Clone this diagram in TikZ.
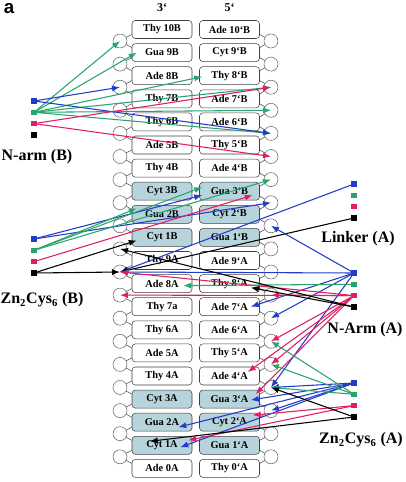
\documentclass[tikz,border=0pt]{standalone}
\usepackage{fontspec}
\setmainfont{Liberation Serif}
\newfontfamily\labsans{Liberation Sans}
\usetikzlibrary{arrows.meta,calc}
\definecolor{cb}{RGB}{35,60,200}
\definecolor{cg}{RGB}{40,165,110}
\definecolor{cr}{RGB}{225,30,100}
\definecolor{gc}{RGB}{183,211,220}
\tikzset{
  >={Latex[length=6pt,width=4.6pt]},
  base/.style={draw=black!75,rounded corners=2.5pt,fill=white,minimum width=45pt,minimum height=13.5pt,inner sep=0pt,font=\fontsize{7.8}{8}\selectfont\bfseries},
  gcbase/.style={base,fill=gc},
  pho/.style={draw=black!60,circle,minimum size=10.5pt,inner sep=0pt,fill=white},
  bb/.style={draw=black!60,line width=0.5pt},
  sq/.style={minimum size=3.8pt,inner sep=0pt},
  arr/.style={->,line width=0.8pt},
  lab/.style={font=\fontsize{12}{12}\selectfont\bfseries}
}
\begin{document}
\begin{tikzpicture}[x=0.75pt,y=-0.75pt]
\useasboundingbox (0,0) rectangle (405,482);
% backbone
\foreach \i [evaluate=\i as \j using int(\i+1)] in {0,...,18}{
  \node[pho] (lc\i) at (120,41+23.1*\i) {};
  \node[pho] (rc\i) at (271,41+23.1*\i) {};
}
\foreach \t/\s [count=\i from 0] in {Thy 10B/base,Gua 9B/base,Ade 8B/base,Thy 7B/base,Thy 6B/base,Ade 5B/base,Thy 4B/base,Cyt 3B/gcbase,Gua 2B/gcbase,Cyt 1B/gcbase,Thy 9A/base,Ade 8A/base,Thy 7a/base,Thy 6A/base,Ade 5A/base,Thy 4A/base,Cyt 3A/gcbase,Gua 2A/gcbase,Cyt 1A/gcbase,Ade 0A/base}
  \node[\s] (l\i) at (162,29.5+23.1*\i) {\t};
\foreach \t/\s [count=\i from 0] in {Ade 10`B/base,Cyt 9`B/base,Thy 8`B/base,Ade 7`B/base,Ade 6`B/base,Thy 5`B/base,Ade 4`B/base,Gua 3`B/gcbase,Cyt 2`B/gcbase,Gua 1`B/gcbase,Ade 9`A/base,Thy 8`A/base,Ade 7`A/base,Ade 6`A/base,Thy 5`A/base,Ade 4`A/base,Gua 3`A/gcbase,Cyt 2`A/gcbase,Gua 1`A/gcbase,Thy 0`A/base}
  \node[\s] (r\i) at (229.5,29.5+23.1*\i) {\t};
\foreach \i [evaluate=\i as \j using int(\i+1)] in {0,...,18}{
  \draw[bb] (lc\i.30) -- ($(l\i.west)+(0,5)$);
  \draw[bb] (lc\i.-30) -- ($(l\j.west)+(0,-5)$);
  \draw[bb] (rc\i.150) -- ($(r\i.east)+(0,5)$);
  \draw[bb] (rc\i.210) -- ($(r\j.east)+(0,-5)$);
}
\node[font=\fontsize{9}{9}\selectfont\bfseries] (h3) at (162,8) {3`};
\node[font=\fontsize{9}{9}\selectfont\bfseries] (h5) at (229.5,8) {5`};
\node[font=\labsans\fontsize{14}{14}\selectfont\bfseries] (pa) at (9,9) {a};
% labels
\node[lab] (lnB) at (37,157) {N-arm (B)};
\node[lab] (lzB) at (42,300) {Zn\textsubscript{2}Cys\textsubscript{6} (B)};
\node[lab] (llA) at (358,239) {Linker (A)};
\node[lab] (lnA) at (365,330) {N-Arm (A)};
\node[lab] (lzA) at (361,440) {Zn\textsubscript{2}Cys\textsubscript{6} (A)};
% markers
\foreach \g/\x/\y in {nB/34/101,zB/34/239,kA/354/184,nA/354/273,zA/354/383}{
  \node[sq,fill=cb] (\g b) at (\x,\y) {};
  \node[sq,fill=cg] (\g g) at (\x,\y+11.3) {};
  \node[sq,fill=cr] (\g r) at (\x,\y+22.6) {};
  \node[sq,fill=black] (\g k) at (\x,\y+34) {};
}
% targets inside bases
\coordinate (tl1) at ($(l1.west)+(5,0)$);
\coordinate (tr2) at ($(r2.west)+(3,1)$);
\coordinate (tr7a) at ($(r7.west)+(3,4)$);
\coordinate (tr7b) at ($(r7.west)+(3,-4)$);
\coordinate (tr7c) at ($(r7.east)+(-7,4)$);
\coordinate (tl8) at ($(l8.west)+(5,-6)$);
\coordinate (tl9) at ($(l9.west)+(5,3)$);
\coordinate (tl11) at ($(l11.east)+(-9,2)$);
\coordinate (tr11) at ($(r11.east)+(-9,4)$);
\coordinate (tr12) at ($(r12.east)+(-9,0)$);
\coordinate (tr15) at ($(r15.east)+(-12,-4)$);
\coordinate (tr16a) at ($(r16.east)+(-4,-5)$);
\coordinate (tr16b) at ($(r16.east)+(-9,1)$);
\coordinate (tr17) at ($(r17.east)+(-7,-7)$);
\coordinate (tl17) at ($(l17.east)+(-14,5)$);
\coordinate (tl18a) at ($(l18.east)+(-12,2)$);
\coordinate (tl18b) at ($(l18.east)+(-4,-5)$);
\coordinate (tl18c) at ($(l18.west)+(18,-4)$);
% N-arm (B)
\foreach \t in {lc0.center,tl1,tr2,rc2.center,rc3.center,rc4.center} \draw[arr,cg] (nBg) -- (\t);
\foreach \t in {lc2.center,rc4.center} \draw[arr,cb] (nBb) -- (\t);
\foreach \t in {rc2.center,rc5.center} \draw[arr,cr] (nBr) -- (\t);
% Zn2Cys6 (B)
\foreach \t in {tr7a,rc7.center} \draw[arr,cb] (zBb) -- (\t);
\foreach \t in {tl8,tr7b,rc6.center} \draw[arr,cg] (zBg) -- (\t);
\draw[arr,cr] (zBr) -- (tr7c);
\foreach \t in {tl9,lc10.center} \draw[arr,black] (zBk) -- (\t);
% Linker (A)
\draw[arr,cb] (kAb) -- (lc10.center);
\draw[arr,black] (kAk) -- (lc10.center);
% N-Arm (A)
\foreach \t in {lc10.center,rc8.center,tr12,rc12.center,rc15.center} \draw[arr,cb] (nAb) -- (\t);
\draw[arr,cg] (nAg) -- (tl11);
\foreach \t in {lc11.center,lc10.center,rc11.center,rc13.center,tr15,rc14.center,tr16a} \draw[arr,cr] (nAr) -- (\t);
\foreach \t in {lc9.center,tr11} \draw[arr,black] (nAk) -- (\t);
% Zn2Cys6 (A)
\foreach \t in {rc15.center,tr16b,rc16.center,tl17,tl18a} \draw[arr,cb] (zAb) -- (\t);
\foreach \t in {rc13.center,rc14.center,rc15.center} \draw[arr,cg] (zAg) -- (\t);
\foreach \t in {tr17,tl18b} \draw[arr,cr] (zAr) -- (\t);
\foreach \t in {rc15.center,tl18c} \draw[arr,black] (zAk) -- (\t);
\end{tikzpicture}
\end{document}
